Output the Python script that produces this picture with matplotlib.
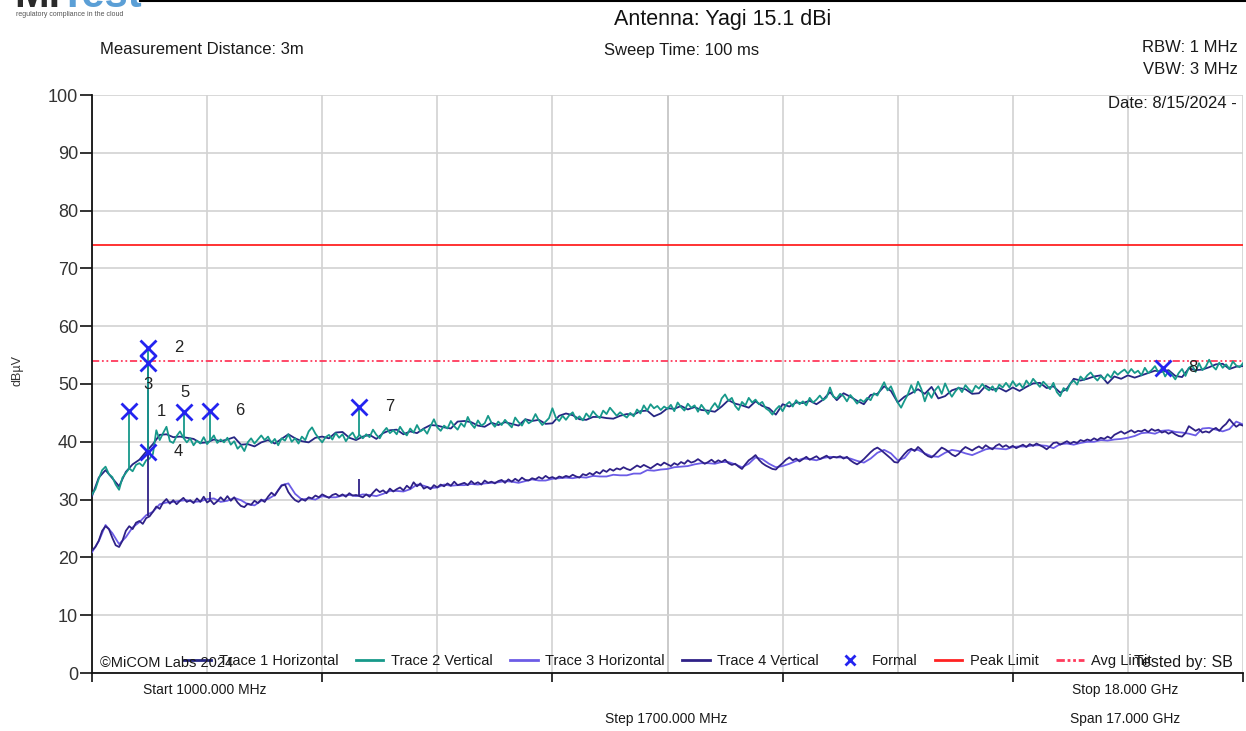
import numpy as np
import matplotlib.pyplot as plt
from matplotlib.lines import Line2D

# vertical traces were read every 50 MHz, horizontal ones every 100 MHz
freq_fine = np.arange(1000, 18001, 50)
freq_coarse = np.arange(1000, 18001, 100)

trace1_horizontal = [
    30.6, 33.8, 35.1, 33.7, 32.3, 34.8, 36.1, 36.9, 38.3, 39.6,
    41.2, 41.3, 40.8, 40.9, 40.7, 40.5, 39.8, 39.9, 40.4, 40.1,
    40.4, 40.8, 39.5, 39.6, 39.2, 39.9, 40.3, 39.7, 40.5, 41.3,
    40.6, 40.1, 39.9, 40.7, 40.9, 40.6, 41.6, 41.7, 40.7, 40.3,
    40.9, 41.2, 40.5, 41.5, 42.0, 42.1, 41.3, 41.8, 41.5, 42.3,
    42.9, 42.8, 42.5, 42.3, 43.5, 43.6, 43.4, 42.8, 42.6, 43.3,
    42.9, 43.4, 43.1, 42.8, 43.9, 43.6, 43.8, 43.1, 43.2, 44.5,
    44.9, 44.6, 43.9, 43.8, 44.3, 44.3, 44.1, 44.0, 44.5, 44.8,
    44.7, 45.3, 45.4, 44.4, 44.9, 45.8, 45.7, 46.2, 45.6, 46.0,
    45.5, 45.4, 45.2, 46.1, 47.2, 46.6, 46.3, 45.9, 47.0, 46.2,
    45.8, 44.7, 46.5, 46.1, 46.8, 46.7, 47.1, 46.5, 47.3, 48.6,
    47.2, 48.4, 47.8, 47.1, 46.5, 48.1, 48.3, 49.6, 48.8, 46.8,
    47.8, 48.4, 49.1, 48.3, 49.5, 47.5, 47.9, 48.9, 49.3, 49.1,
    48.3, 48.4, 49.7, 49.0, 49.3, 48.7, 49.4, 48.8, 49.5, 50.1,
    50.2, 49.3, 49.6, 48.5, 49.2, 50.9, 50.6, 50.9, 51.3, 51.5,
    50.1, 51.3, 50.9, 51.5, 51.1, 51.5, 51.9, 52.3, 52.1, 52.4,
    51.4, 51.2, 52.7, 52.4, 52.5, 52.9, 53.4, 53.5, 52.6, 53.0,
    53.1]

trace2_vertical = [
    30.9, 31.8, 33.6, 35.1, 35.7, 34.4, 33.9, 32.6, 31.7, 33.8,
    34.6, 35.4, 34.9, 36.0, 36.3, 35.8, 36.8, 37.1, 37.9, 42.0,
    40.3, 41.5, 42.6, 40.1, 39.8, 41.0, 41.8, 40.7, 39.9, 40.6,
    39.4, 40.2, 39.7, 40.8, 39.6, 40.3, 41.1, 39.8, 40.4, 39.9,
    40.7, 39.5, 40.1, 38.8, 39.4, 38.4, 39.9, 40.6, 39.7, 40.4,
    41.1, 40.3, 40.9, 39.8, 40.5, 39.4, 40.6, 40.2, 41.3, 40.0,
    40.6, 39.7, 40.9, 40.3, 41.8, 42.5, 41.4, 40.6, 39.9, 40.8,
    41.2, 40.4, 41.5, 40.7, 41.3, 40.1, 41.0, 41.6, 40.5, 41.2,
    40.6, 41.3, 40.8, 42.1, 41.2, 40.6, 41.7, 42.4, 41.5, 42.0,
    41.3, 42.6, 41.7, 41.1, 42.3, 41.6, 42.9, 41.8, 42.2, 41.4,
    42.7, 43.9, 42.5, 41.9, 42.8, 42.3, 43.6, 42.7, 42.1, 43.2,
    42.6, 44.3, 43.1, 42.4, 43.7, 42.8, 43.2, 44.5, 43.3, 42.6,
    43.5, 42.9, 43.8, 43.1, 42.5, 44.2, 43.4, 42.8, 43.9, 43.2,
    43.6, 44.8, 43.7, 42.9, 43.5, 44.1, 45.8, 44.2, 43.6, 44.5,
    43.8, 44.6, 45.1, 43.9, 44.4, 43.7, 44.9, 44.2, 45.3, 44.6,
    44.1, 45.4, 44.8, 45.9, 45.2, 44.5, 45.1, 44.6, 44.2, 45.0,
    44.4, 45.6, 44.9, 46.3, 45.4, 46.5, 45.8, 46.2, 45.5, 46.1,
    45.7, 46.4, 45.3, 46.8, 46.0, 45.4, 46.6, 45.9, 46.3, 45.2,
    46.4, 45.6, 44.8, 45.9, 46.7, 45.8, 47.5, 48.2, 47.1, 47.6,
    46.2, 45.5, 46.9, 46.3, 47.6, 46.8, 47.3, 46.5, 46.9, 45.8,
    45.4, 44.7, 45.6, 46.2, 45.3, 46.4, 46.9, 46.1, 47.2, 46.5,
    47.0, 46.3, 47.6, 46.8, 47.3, 48.0, 47.2, 47.7, 49.4, 47.8,
    47.5, 48.3, 47.9, 47.0, 48.1, 47.4, 46.6, 47.3, 46.9, 47.6,
    47.2, 48.4, 48.0, 49.2, 50.3, 48.9, 49.6, 48.2, 46.8, 45.9,
    47.1, 48.2, 49.8, 48.5, 50.4, 49.1, 47.0, 48.6, 47.6, 48.9,
    49.6, 48.3, 50.1, 48.8, 47.8, 48.7, 49.4, 48.6, 49.8, 49.1,
    48.6, 49.7, 49.2, 50.0, 49.3, 48.9, 49.6, 48.7, 49.9, 49.4,
    50.2, 49.4, 50.5, 49.6, 50.1, 49.3, 50.6, 49.8, 50.9, 50.2,
    49.5, 50.4, 49.8, 49.1, 50.2, 48.6, 47.9, 49.3, 48.8, 50.1,
    50.6, 49.9, 51.3, 50.7, 51.5, 52.0, 51.2, 50.6, 51.4, 50.8,
    51.7, 51.1, 52.2, 51.6, 52.1, 52.5, 51.8, 52.6, 51.9, 52.3,
    51.5, 52.8, 51.9, 52.4, 53.1, 52.0, 52.7, 51.3, 52.2, 51.6,
    50.8, 51.9, 52.6, 51.4, 52.8, 53.2, 52.1, 53.6, 52.4, 53.0,
    54.2, 53.1, 52.5, 53.7, 52.8, 53.4, 52.6, 53.9, 53.2, 52.9,
    53.6]

trace3_horizontal = [
    20.9, 22.8, 25.6, 24.2, 22.3, 23.5, 25.2, 26.1, 27.3, 27.9,
    29.2, 29.5, 29.6, 29.8, 29.9, 29.6, 29.7, 30.1, 30.2, 29.6,
    29.8, 30.3, 29.9, 29.2, 29.0, 29.8, 30.1, 30.8, 32.5, 32.8,
    31.0, 30.0, 30.2, 30.0, 30.6, 30.4, 30.4, 30.7, 30.8, 30.6,
    30.9, 30.8, 30.6, 31.0, 31.5, 31.5, 31.4, 31.8, 32.6, 32.4,
    32.0, 32.1, 32.6, 32.4, 32.5, 32.5, 32.7, 32.6, 32.8, 32.9,
    33.0, 33.2, 33.1, 32.9, 33.2, 33.5, 33.3, 33.3, 33.6, 33.7,
    33.8, 33.7, 33.9, 33.8, 34.1, 34.0, 34.0, 34.3, 34.2, 34.2,
    34.5, 34.5, 35.1, 35.0, 35.2, 35.3, 35.6, 35.7, 35.8, 36.1,
    36.3, 36.3, 36.2, 36.5, 36.5, 36.1, 35.6, 36.2, 37.3, 37.0,
    36.2, 35.6, 35.8, 36.2, 36.7, 37.1, 37.0, 36.8, 37.2, 37.4,
    37.3, 37.3, 37.1, 36.7, 36.4, 37.1, 38.1, 38.6, 38.0, 36.8,
    37.2, 38.6, 38.6, 38.0, 37.5, 37.4, 38.1, 38.6, 38.4, 38.0,
    37.7, 38.2, 38.7, 38.9, 38.8, 38.7, 39.1, 39.2, 39.2, 39.4,
    39.4, 39.3, 38.9, 39.6, 39.7, 39.5, 39.8, 40.0, 40.0, 40.3,
    40.2, 40.4, 40.5, 40.7, 41.0, 41.5, 41.6, 41.4, 41.9, 42.0,
    41.7, 41.6, 41.4, 41.1, 42.3, 42.4, 42.1, 41.8, 42.2, 43.5,
    43.0]

trace4_vertical = [
    21.2, 21.8, 22.9, 24.6, 25.4, 24.9, 23.4, 22.1, 21.8, 22.9,
    24.6, 25.4, 24.9, 26.0, 26.3, 25.8, 26.8, 27.1, 27.9, 28.8,
    28.4, 29.5, 30.1, 29.3, 29.9, 29.2, 29.8, 30.3, 29.6, 29.9,
    29.4, 30.2, 29.6, 30.5, 29.5, 29.9, 29.2, 29.7, 30.4, 29.8,
    30.6, 29.8, 30.4, 29.5, 28.9, 28.7, 29.3, 29.1, 29.8, 29.4,
    30.0, 29.6, 30.5, 31.2, 30.7, 31.6, 32.4, 32.6, 31.3, 30.5,
    29.9, 29.6, 30.1, 29.8, 30.4, 30.2, 30.7, 30.4, 30.9, 30.6,
    30.3, 30.8, 31.0, 30.6, 30.9, 30.5, 31.1, 30.7, 30.8, 30.6,
    30.4, 30.9, 30.5, 31.2, 31.8, 31.3, 31.6, 31.1, 31.9, 31.4,
    31.8, 32.1, 31.6, 32.4, 31.9, 33.0, 32.3, 32.8, 31.9, 32.2,
    31.8, 32.5, 32.1, 32.6, 32.3, 32.8, 32.4, 33.1, 32.5, 32.7,
    32.9, 32.5, 33.2, 32.7, 33.0, 32.6, 33.3, 32.9, 33.1, 32.8,
    33.2, 33.4, 32.9, 33.5, 33.1, 33.6, 33.2, 33.8, 33.4, 33.3,
    33.7, 33.5, 33.9, 33.6, 34.1, 33.7, 33.9, 33.6, 34.0, 33.8,
    34.1, 33.9, 34.3, 34.0, 33.8, 34.4, 34.2, 34.6, 34.3, 34.8,
    34.5, 35.1, 34.8, 35.3, 35.0, 35.4, 35.2, 35.6, 35.3, 35.1,
    35.5, 35.9, 35.6, 36.0, 35.7, 35.4, 35.8, 36.2, 35.9, 36.4,
    36.1, 35.8, 36.3, 36.0, 36.5, 36.2, 36.8, 36.4, 36.6, 37.0,
    36.6, 36.2, 36.5, 36.9, 36.4, 36.8, 36.5, 36.9, 36.3, 36.0,
    36.2, 35.7, 35.3, 36.1, 36.8, 37.2, 37.7, 36.9, 36.3, 35.9,
    35.6, 35.3, 35.2, 35.8, 36.3, 36.9, 37.3, 36.8, 37.1, 36.6,
    37.0, 37.4, 36.9, 37.2, 37.5, 37.0, 37.3, 37.6, 37.1, 37.4,
    37.3, 37.5, 37.1, 37.4, 36.8, 36.4, 36.1, 36.5, 37.0, 37.6,
    38.2, 38.7, 39.0, 38.6, 38.1, 37.6, 37.1, 36.5, 36.4, 37.2,
    37.9, 38.5, 38.8, 38.4, 39.1, 38.6, 37.9, 37.5, 37.3, 37.8,
    38.4, 39.0, 38.7, 38.3, 37.8, 37.5, 37.9, 38.6, 39.1, 38.8,
    38.5, 38.9, 39.2, 38.8, 39.4, 39.0, 38.7, 39.3, 39.6, 39.1,
    39.4, 39.0, 39.3, 38.9, 39.2, 39.5, 39.1, 39.6, 39.3, 39.7,
    39.4, 39.1, 38.7, 39.2, 39.8, 39.9, 39.5, 39.8, 40.1, 39.7,
    40.0, 39.8, 40.3, 40.1, 40.4, 40.2, 40.6, 40.3, 40.7, 40.5,
    40.9, 40.6, 41.2, 41.5, 41.8, 41.4, 41.7, 42.0, 41.6, 41.9,
    41.8, 42.1, 41.7, 42.2, 41.9, 42.1, 41.6, 41.8, 41.4, 41.7,
    41.3, 41.0, 40.9, 41.5, 42.7, 42.3, 41.9, 42.2, 41.6, 41.8,
    41.6, 42.1, 42.4, 41.9, 42.6, 43.1, 43.9, 43.2, 42.6, 43.0,
    42.8]

# narrow emissions sitting on top of the traces (freq MHz, level dBuV)
trace1_spike_freq = [1827]
trace1_spike_level = [53.7]
trace2_spike_freq = [1546, 1827, 2359, 2743, 4943]
trace2_spike_level = [45.3, 56.3, 45.1, 45.4, 46.1]
trace4_spike_freq = [1827, 2743, 4943]
trace4_spike_level = [38.2, 31.3, 33.5]

# formal measurement markers
marker_labels = ['1', '2', '3', '4', '5', '6', '7', '8']
marker_freq = [1546, 1827, 1827, 1827, 2359, 2743, 4943, 16818]
marker_level = [45.3, 56.3, 53.7, 38.2, 45.1, 45.4, 46.1, 52.8]
label_offset_px = [(32, 0), (31, 0), (0, -22), (30, 1), (1, 20), (30, 0), (31, 0), (30, 0)]

peak_limit = 74.0
avg_limit = 54.0

c_trace1 = '#262683'
c_trace2 = '#17998a'
c_trace3 = '#6c5ce6'
c_trace4 = '#2f2187'
c_marker = '#2424f0'
c_peak = '#ff2222'
c_avg = '#ff3a5c'

W, H = 1246, 731

plt.rcParams['font.family'] = ['Liberation Sans', 'DejaVu Sans']


def fx(px):
    return px / W


def fy(py):
    return 1 - py / H


def draw_spikes(ax, freqs, trace, spike_f, spike_v, color):
    trace = np.asarray(trace)
    base = [trace[np.abs(freqs - f).argmin()] for f in spike_f]
    ax.vlines(spike_f, base, spike_v, color=color, lw=1.3, zorder=4)


def main():
    fig = plt.figure(figsize=(W / 100, H / 100), dpi=100)
    ax = fig.add_axes([fx(92), fy(673), fx(1243) - fx(92), fy(95) - fy(673)])

    ax.set_xlim(1000, 18000)
    ax.set_ylim(0, 100)

    # grid: 1700 MHz steps, ticks only every other step
    ax.set_xticks(np.arange(1000, 18001, 3400))
    ax.set_xticks(np.arange(1000, 18001, 1700), minor=True)
    ax.set_xticklabels([])
    ax.set_yticks(np.arange(0, 101, 10))
    ax.grid(True, which='both', color='#d2d2d2', lw=1.2)
    ax.axvline(9500, color='#a8a8a8', lw=1.4, zorder=0.5)
    ax.tick_params(axis='x', which='major', direction='out', length=6.5, width=1.2,
                   color='#111111')
    ax.tick_params(axis='x', which='minor', length=0)
    ax.tick_params(axis='y', direction='out', length=8.6, width=1.2, pad=1.5,
                   labelsize=13, labelcolor='#333333', color='#111111')
    for side in ('top', 'right'):
        ax.spines[side].set_visible(False)
    for side in ('left', 'bottom'):
        ax.spines[side].set_color('#111111')
        ax.spines[side].set_linewidth(1.3)
    ax.set_axisbelow(True)

    ax.axhline(peak_limit, color=c_peak, lw=1.3, zorder=2)
    ax.axhline(avg_limit, color=c_avg, lw=1.3, ls=(0, (4, 1.5, 1, 1.5, 1, 1.5)), zorder=2)

    ax.plot(freq_coarse, trace1_horizontal, color=c_trace1, lw=1.3, zorder=3)
    ax.plot(freq_fine, trace2_vertical, color=c_trace2, lw=1.3, zorder=3)
    ax.plot(freq_coarse, trace3_horizontal, color=c_trace3, lw=1.3, zorder=3)
    ax.plot(freq_fine, trace4_vertical, color=c_trace4, lw=1.3, zorder=3)

    draw_spikes(ax, freq_coarse, trace1_horizontal, trace1_spike_freq, trace1_spike_level, c_trace1)
    draw_spikes(ax, freq_fine, trace2_vertical, trace2_spike_freq, trace2_spike_level, c_trace2)
    draw_spikes(ax, freq_fine, trace4_vertical, trace4_spike_freq, trace4_spike_level, c_trace4)

    ax.plot(marker_freq, marker_level, ls='none', marker='x', ms=11, mew=2,
            color=c_marker, zorder=6)
    for lab, f, v, off in zip(marker_labels, marker_freq, marker_level, label_offset_px):
        ax.annotate(lab, (f, v), xytext=off, textcoords='offset pixels',
                    ha='center', va='center', fontsize=12, color='#222222', zorder=7)

    # header / footer text
    fig.text(fx(723), fy(20), 'Antenna: Yagi 15.1 dBi', ha='center', va='center',
             fontsize=15.5, color='#111111')
    fig.text(fx(100), fy(50), 'Measurement Distance: 3m', ha='left', va='center',
             fontsize=12, color='#1a1a1a')
    fig.text(fx(682), fy(50), 'Sweep Time: 100 ms', ha='center', va='center',
             fontsize=12, color='#1a1a1a')
    fig.text(fx(1238), fy(48), 'RBW: 1 MHz', ha='right', va='center',
             fontsize=12, color='#1a1a1a')
    fig.text(fx(1238), fy(70), 'VBW: 3 MHz', ha='right', va='center',
             fontsize=12, color='#1a1a1a')
    fig.text(fx(1237), fy(104), 'Date: 8/15/2024 -', ha='right', va='center',
             fontsize=12, color='#1a1a1a')
    fig.text(fx(18), fy(370), 'dBµV', ha='center', va='center', rotation=90,
             fontsize=9, color='#333333')
    fig.text(fx(143), fy(690), 'Start 1000.000 MHz', ha='left', va='center',
             fontsize=10, color='#1a1a1a')
    fig.text(fx(1072), fy(690), 'Stop 18.000 GHz', ha='left', va='center',
             fontsize=10, color='#1a1a1a')
    fig.text(fx(605), fy(719), 'Step 1700.000 MHz', ha='left', va='center',
             fontsize=10, color='#1a1a1a')
    fig.text(fx(1070), fy(719), 'Span 17.000 GHz', ha='left', va='center',
             fontsize=10, color='#1a1a1a')

    # logo, mostly cut off by the top edge
    fig.text(fx(14), fy(7), 'Mi', ha='left', va='baseline', fontsize=30,
             fontweight='bold', color='#2a2a2a')
    fig.text(fx(60), fy(7), 'Test', ha='left', va='baseline', fontsize=30,
             fontweight='bold', color='#5b9fd6')
    fig.text(fx(16), fy(14), 'regulatory compliance in the cloud', ha='left',
             va='center', fontsize=5, color='#555555')
    fig.add_artist(Line2D([fx(140), 1.0], [fy(1), fy(1)], color='black', lw=1.5))

    handles = [
        Line2D([], [], color=c_trace1, lw=2),
        Line2D([], [], color=c_trace2, lw=2),
        Line2D([], [], color=c_trace3, lw=2),
        Line2D([], [], color=c_trace4, lw=2),
        Line2D([], [], color=c_marker, ls='none', marker='x', ms=7, mew=2),
        Line2D([], [], color=c_peak, lw=2),
        Line2D([], [], color=c_avg, lw=2, ls=(0, (3, 1, 1, 1, 1, 1))),
    ]
    labels = ['Trace 1 Horizontal', 'Trace 2 Vertical', 'Trace 3 Horizontal',
              'Trace 4 Vertical', 'Formal', 'Peak Limit', 'Avg Limit']
    ax.legend(handles, labels, loc='lower center', bbox_to_anchor=(0.5, -0.006),
              ncol=7, frameon=False, fontsize=10.5, handlelength=1.9,
              handletextpad=0.5, columnspacing=1.2, borderpad=0.1,
              labelcolor='#1a1a1a')

    fig.text(fx(100), fy(663), '©MiCOM Labs 2024', ha='left', va='center',
             fontsize=10.5, color='#1a1a1a', zorder=10)
    fig.text(fx(1233), fy(663), 'Tested by: SB', ha='right', va='center',
             fontsize=11.5, color='#1a1a1a', zorder=10)

    fig.savefig('out.png', dpi=100)


if __name__ == "__main__":
    main()
